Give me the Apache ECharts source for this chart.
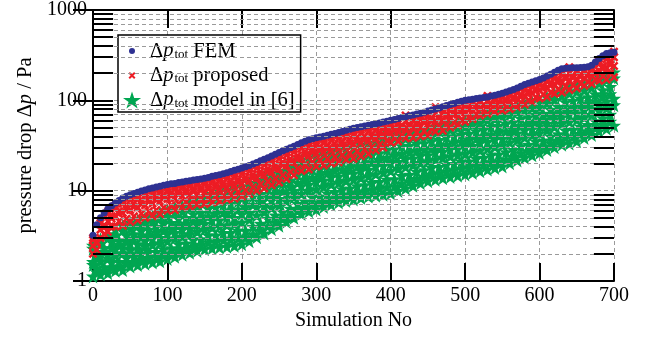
<!DOCTYPE html>
<html><head><meta charset="utf-8">
<script src="https://cdn.jsdelivr.net/npm/echarts@6/dist/echarts.min.js"></script>
<style>html,body{margin:0;padding:0;background:#fff}#c{width:658px;height:338px}</style>
</head><body><div id="c"></div>
<script>
// ---------- data ----------
const simStep5 = [0,5,10,15,20,25,30,35,40,45,50,55,60,65,70,75,80,85,90,95,100,105,110,115,120,125,130,135,140,145,150,155,160,165,170,175,180,185,190,195,200,205,210,215,220,225,230,235,240,245,250,255,260,265,270,275,280,285,290,295,300,305,310,315,320,325,330,335,340,345,350,355,360,365,370,375,380,385,390,395,400,405,410,415,420,425,430,435,440,445,450,455,460,465,470,475,480,485,490,495,500,505,510,515,520,525,530,535,540,545,550,555,560,565,570,575,580,585,590,595,600,605,610,615,620,625,630,635,640,645,650,655,660,665,670,675,680,685,690,695,700];
const simEven = [0,10,20,30,40,50,60,70,80,90,100,110,120,130,140,150,160,170,180,190,200,210,220,230,240,250,260,270,280,290,300,310,320,330,340,350,360,370,380,390,400,410,420,430,440,450,460,470,480,490,500,510,520,530,540,550,560,570,580,590,600,610,620,630,640,650,660,670,680,690,700];
const simOdd = [5,15,25,35,45,55,65,75,85,95,105,115,125,135,145,155,165,175,185,195,205,215,225,235,245,255,265,275,285,295,305,315,325,335,345,355,365,375,385,395,405,415,425,435,445,455,465,475,485,495,505,515,525,535,545,555,565,575,585,595,605,615,625,635,645,655,665,675,685,695];

// FEM (blue dots), sampled every 5 simulations
const femValues = [3.2,4.2,5.0,5.7,6.3,6.8,7.3,7.8,8.3,8.7,9.0,9.3,9.6,9.9,10.2,10.5,10.7,11.0,11.2,11.5,11.7,11.9,12.0,12.3,12.5,12.7,12.9,13.1,13.3,13.5,13.7,14.0,14.4,14.7,15.0,15.4,15.8,16.3,16.8,17.3,17.8,18.4,19.0,19.7,20.5,21.4,22.3,23.2,24.2,25.3,26.5,27.6,28.8,29.9,31,32.5,34,35.3,36.5,37.5,38.5,39.2,40,41,42,43,44,45.2,46.5,47.8,49,50,51,52,53,54,55,56.2,57.5,58.7,60,61.5,63,64.5,66,67.5,69,70.5,72,74,76,78,80,82.5,85,87.5,90,92.5,95,97.5,100,101.5,103,104.5,106,107.5,109,111.5,114,117,120,124,128,132,137,143,150,155,160,165,170,177,186,195,205,215,224,227,228,229,230,231,232,236,245,265,290,312,330,336,340];

// proposed (red crosses): spread of the band, low to high
const propLevel1 = [2.0,3.0,3.5,4.0,4.1,4.5,4.7,5.0,5.2,5.5,6.0,6.1,6.5,6.7,7.0,7.1,7.4,7.6,8.0,8.2,8.6,9.2,10,10.6,11.5,12.3,13.5,14.8,16.5,17.2,18.5,19.0,20,20.6,22,22.6,24,25.5,28,30,34,35,38,38.5,40,41,45,46,50,53,58,62,68,71,75,77,80,84,90,96,105,109,118,122,130,136,145,152,165,170,180];
const propLevel2 = [2.2,3.3,4.0,4.6,4.9,5.2,5.6,5.9,6.1,6.5,6.9,7.2,7.5,7.8,8.1,8.3,8.6,8.9,9.3,9.7,10.1,10.9,11.8,12.6,13.6,14.8,16.1,17.6,19.4,20.7,21.7,22.6,23.6,24.8,26.1,27.3,28.5,30.5,32.5,35.4,38.5,40.8,42.7,44.2,45.7,47.8,50.9,53.3,56.8,61.0,65.0,69.5,74.5,78.2,81.7,85.3,88.1,93.8,100,108,116,123,133,142,147,154,160,170,186,199];
const propLevel3 = [2.45,3.7,4.6,5.2,5.7,6.1,6.5,6.9,7.2,7.6,8.1,8.3,8.7,9.0,9.3,9.6,10.0,10.4,10.8,11.4,11.9,12.8,13.8,14.9,16.1,17.5,19.0,20.8,22.8,24.4,25.7,26.7,27.9,29.3,30.8,32.4,33.7,35.8,37.9,40.7,43.6,45.9,48.3,50.0,52.1,54.5,57.9,60.9,64.7,69.1,73.4,77.7,81.9,85.3,89.2,93.4,97.6,104,112,120,129,138,150,161,166,172,177,188,211,230,240];
const propLevel3b = [2.6,3.9,4.9,5.55,6.15,6.6,7.05,7.5,7.8,8.2,8.7,9.0,9.4,9.7,10.0,10.3,10.8,11.2,11.7,12.3,13.0,13.9,15.0,16.2,17.5,19.1,20.7,22.6,24.8,26.5,27.9,29.0,30.3,31.9,33.5,35.3,36.7,38.8,40.8,43.6,46.4,48.9,51.3,53.2,55.7,58.1,61.7,65.0,69.0,73.5,77.8,82.1,85.8,89.0,93.1,97.6,103,109,118,127,136,146,159,172,177,182,186,197,224,247];
const propLevel4 = [2.7,4.1,5.2,5.9,6.6,7.2,7.6,8.1,8.5,8.9,9.4,9.7,10.1,10.4,10.8,11.0,11.6,12.1,12.7,13.3,14.1,15.1,16.3,17.6,19.1,20.8,22.6,24.5,26.9,28.8,30.3,31.5,33.0,34.7,36.5,38.5,40.0,42.0,44.0,46.6,49.3,52.0,54.4,56.7,59.5,62.0,65.8,69.4,73.6,78.1,82.5,86.8,89.9,92.8,97.1,102,108,115,125,134,143,154,168,183,188,192,196,207,238,265];
const propLevel4b = [2.85,4.35,5.5,6.35,7.15,7.8,8.25,8.8,9.2,9.6,10.1,10.4,10.8,11.2,11.6,11.8,12.5,13.0,13.7,14.4,15.3,16.3,17.6,19.1,20.7,22.6,24.6,26.6,29.2,31.3,33.0,34.2,35.9,37.7,39.7,41.9,43.5,45.5,47.5,49.9,52.4,55.2,59,60.3,63.5,66.2,72,74,78.5,83.1,87.6,91.2,94.1,98,101,107,113,121,132,141,150,163,179,195,200,203,206,217,253,285,300];
const propLevel5 = [3.0,4.6,5.8,6.8,7.7,8.4,8.9,9.5,10.0,10.4,10.9,11.2,11.6,12.0,12.4,12.7,13.4,14.0,14.7,15.6,16.6,17.7,19.1,20.7,22.5,24.6,26.8,28.8,31.6,34,35.8,37.2,39,41,43.2,45.6,47.4,49.3,51.2,53.5,55.8,58.6,68,64.2,67.9,70.7,84,79,83.7,88.4,93,95.8,98.6,112,106,112,119,127,139,149,158,173,190,208,232,214,216,228,270,307,345];

// model in [6] (green stars): spread of the band, low to high
const modelLevel1 = [1.12,1.18,1.22,1.3,1.32,1.45,1.5,1.55,1.6,1.65,1.75,1.85,1.95,2.05,2.15,2.25,2.3,2.35,2.4,2.45,2.55,2.75,3.05,3.35,3.75,4.1,4.5,5.0,5.5,5.9,6.2,6.6,7.0,7.4,7.7,8.0,8.3,8.6,8.8,9.0,9.3,9.9,10.6,11.3,12.1,12.7,13.2,13.7,14.2,14.6,15.1,15.7,16.4,17.1,17.8,18.5,20.1,21.6,23.1,24.6,26.1,28.2,30.2,32.2,33.2,35.3,38.3,41.3,45.4,48.4,52.4];
const modelLevel1b = [1.25,1.3,1.4,1.45,1.55,1.62,1.72,1.8,1.84,1.93,2.0,2.15,2.27,2.4,2.5,2.68,2.7,2.83,2.86,2.97,3.03,3.3,3.6,4.05,4.45,4.85,5.3,5.95,6.45,7.0,7.3,7.8,8.25,8.8,9.0,9.45,9.8,10.2,10.5,10.9,11.2,12.0,12.6,13.5,14.2,15.1,15.5,16.3,16.8,17.5,17.9,18.8,19.5,20.6,21.1,22.2,23.8,25.9,27.3,29.3,30.6,33.5,35.7,38.6,39.6,42.4,45.3,49.2,53.7,57.9];
const modelLevel2 = [1.38,1.42,1.6,1.62,1.8,1.85,2.0,2.1,2.1,2.25,2.3,2.55,2.6,2.85,2.9,3.2,3.2,3.4,3.4,3.6,3.6,4.0,4.3,4.9,5.3,5.8,6.3,7.1,7.6,8.4,8.6,9.3,9.7,10.4,10.6,11.2,11.5,12.2,12.5,13.2,13.4,14.5,15.0,16.2,16.8,17.9,18.3,19.5,19.8,20.9,21.1,22.5,23.1,24.7,25.1,26.7,28.2,31.0,32.3,35.0,36.0,39.8,42.2,46.4,47.3,50.9,53.5,58.6,63.5,69.2];
const modelLevel2b = [1.5,1.65,1.77,1.9,2.03,2.2,2.25,2.42,2.5,2.6,2.75,2.95,3.1,3.3,3.5,3.7,3.9,4.0,4.15,4.25,4.45,4.8,5.3,5.8,6.45,6.85,7.65,8.4,9.2,9.9,10.4,11.0,11.7,12.2,12.8,13.2,13.8,14.4,15.2,15.8,16.5,17.4,18.3,19.2,20.2,21.0,22.0,23.0,23.9,24.6,25.4,26.5,27.9,29.2,30.4,31.6,34.1,36.5,38.9,41.0,43.1,46.8,50.8,55.0,57.5,60.5,64.4,69.0,76.5,81.9,88];
const modelLevel3 = [1.62,1.9,1.95,2.25,2.3,2.6,2.55,2.8,2.95,3.0,3.3,3.4,3.7,3.8,4.2,4.3,4.7,4.7,5.1,5.0,5.5,5.7,6.5,6.9,7.8,8.1,9.3,10.0,11.2,11.6,12.5,13.0,14.1,14.4,15.3,15.5,16.6,17.0,18.5,18.9,20.2,20.8,22.3,22.7,24.3,24.6,26.4,27.0,28.7,29.0,30.6,31.3,33.8,34.6,36.9,37.5,41.3,43.0,46.8,48.2,51.6,55.0,61.2,65.0,70.0,71.8,77.5,81.4,92.0,97.0,104];
const modelLevel3b = [1.85,2.1,2.3,2.5,2.7,2.95,3.05,3.2,3.45,3.6,3.8,4.1,4.3,4.6,4.9,5.2,5.55,5.75,6.0,6.2,6.55,7.0,7.75,8.5,9.25,9.85,11.0,12.2,13.2,14.0,14.8,15.7,16.6,17.3,17.9,18.6,19.5,20.6,21.9,23.2,24.2,25.4,26.5,27.5,28.6,29.4,31.0,32.5,33.9,34.9,36.1,37.7,39.9,41.9,43.8,45.4,48.8,51.9,55.2,57.9,60.5,65.8,72.1,78.6,83.2,86.8,91.5,97.6,109,117];
const modelLevel4 = [2.1,2.3,2.7,2.8,3.2,3.3,3.6,3.7,4.0,4.3,4.4,4.9,5.0,5.5,5.7,6.3,6.5,7.0,7.1,7.6,7.8,8.6,9.2,10.4,11.0,12.0,13.0,14.8,15.6,17.0,17.4,18.9,19.5,20.8,21.0,22.3,23.0,25.0,26.0,28.4,29.0,31.0,31.5,33.2,33.6,35.2,36.5,39.2,40.0,42.0,42.6,45.5,47.2,50.8,52.0,55.0,57.6,62.6,65.0,69.5,71.0,78.8,85.0,95.0,99.0,105,108,117,129,141];
const modelLevel4b = [2.27,2.58,2.98,3.2,3.62,3.8,4.1,4.3,4.55,4.95,5.15,5.65,5.85,6.4,6.75,7.35,7.75,8.3,8.5,9.05,9.35,10.2,11.0,12.3,13.1,14.1,15.5,17.4,18.5,19.9,20.6,22.1,23.1,24.2,24.8,26.0,27.2,29.2,31.1,33.7,34.9,36.9,37.6,39.1,39.7,41.1,43.1,46.0,47.3,49.4,50.6,53.5,56.2,60.0,62.0,65.1,68.7,73.8,77.3,81.7,83.8,92.3,101,112,119,125,129,138,154,167,175];
const modelLevel5 = [2.45,2.9,3.3,3.7,4.1,4.4,4.7,5.0,5.2,5.7,6.0,6.5,6.8,7.4,8.0,8.6,9.2,9.8,10.2,10.8,11.2,12.2,13.2,14.6,15.6,16.6,18.5,20.5,22,23.4,24.5,25.8,27.4,28.3,29.4,30.3,32.2,34.2,37.2,40.0,42.0,44.0,45.0,46.0,47.0,48.0,51.0,54.0,56.0,58.0,60.0,63.0,67.0,71.0,74.0,77.0,82.0,87.0,92.0,96.0,99.0,108,120,133,143,148,153,163,183,197,203];

const yMinor = [2,3,4,5,6,7,8,9,20,30,40,50,60,70,80,90,200,300,400,500,600,700,800,900];
const seriesNames = ['FEM','proposed','model in [6]'];

// ---------- styling ----------
const F = "'Liberation Serif','DejaVu Serif',serif";
const C_BLUE = '#2e3192', C_RED = '#ed1c24', C_GREEN = '#00a651';
const STAR = 'path://M50,0L62,33L98,33L69,56L80,92L50,71L20,92L31,56L2,33L38,33Z';
const CROSS = 'path://M2,0L5,3L8,0L10,2L7,5L10,8L8,10L5,7L2,10L0,8L3,5L0,2Z';
const ICON_DOT = 'path://M0,0M26,20M13,7A3,3,0,1,1,13,13A3,3,0,1,1,13,7Z';
const ICON_CROSS = 'path://M0,0M26,20M10.9,6.5L13,8.6L15.1,6.5L16.5,7.9L14.4,10L16.5,12.1L15.1,13.5L13,11.4L10.9,13.5L9.5,12.1L11.6,10L9.5,7.9Z';
const ICON_STAR = 'path://M0,0M26,20M13,1.4L15.2,8L22.1,8L16.5,12L18.6,18.6L13,14.5L7.4,18.6L9.6,12L4,8L10.9,8Z';
const minorTickLen = 27; // in simulation units (~20 px)

const pairs = (xs, ys) => ys.map((y, i) => [xs[i], y]);
const femData = pairs(simStep5, femValues);
const propData = [].concat(
  pairs(simEven, propLevel1), pairs(simOdd, propLevel2), pairs(simEven, propLevel3),
  pairs(simOdd, propLevel3b), pairs(simOdd, propLevel4), pairs(simEven, propLevel4b), pairs(simEven, propLevel5));
const modelData = [].concat(
  pairs(simEven, modelLevel1), pairs(simOdd, modelLevel1b), pairs(simOdd, modelLevel2), pairs(simEven, modelLevel2b),
  pairs(simEven, modelLevel3), pairs(simOdd, modelLevel3b), pairs(simOdd, modelLevel4), pairs(simEven, modelLevel4b),
  pairs(simEven, modelLevel5));

const gridDash = {type: [4, 3], color: '#9a9a9a', width: 1};
const txt = {fontFamily: F, fontSize: 20, color: '#000'};
const axisLineS = {lineStyle: {color: '#000', width: 2}};

const chart = echarts.init(document.getElementById('c'), null, {renderer: 'canvas'});
chart.setOption({
  animation: false,
  backgroundColor: '#fff',
  grid: {left: 93, right: 44, top: 10, bottom: 57, containLabel: false},
  xAxis: [{
    type: 'value', min: 0, max: 700, interval: 100, position: 'bottom',
    axisLine: axisLineS,
    axisTick: {inside: true, length: 18, lineStyle: {color: '#000', width: 2}},
    axisLabel: Object.assign({margin: 5}, txt),
    splitLine: {show: true, lineStyle: gridDash},
    name: 'Simulation No', nameLocation: 'middle', nameGap: 30,
    nameTextStyle: txt
  }, {
    type: 'value', min: 0, max: 700, interval: 100, position: 'top',
    axisLine: axisLineS,
    axisTick: {inside: true, length: 18, lineStyle: {color: '#000', width: 2}},
    axisLabel: {show: false}, splitLine: {show: false}
  }],
  yAxis: [{
    type: 'log', logBase: 10, min: 1, max: 1000,
    axisLine: axisLineS,
    axisTick: {inside: true, length: 20, lineStyle: {color: '#000', width: 2}},
    axisLabel: Object.assign({margin: 6, formatter: v => String(Math.round(v))}, txt),
    splitLine: {show: true, lineStyle: gridDash},
    name: '{a|pressure drop Δ}{i|p}{a| / Pa}', nameLocation: 'middle', nameGap: 56, nameRotate: 90,
    nameTextStyle: {rich: {a: Object.assign({}, txt, {fontSize: 20.5}), i: Object.assign({}, txt, {fontSize: 20.5, fontStyle: 'italic'})}}
  }, {
    type: 'log', logBase: 10, min: 1, max: 1000, position: 'right',
    axisLine: axisLineS,
    axisTick: {inside: true, length: 20, lineStyle: {color: '#000', width: 2}},
    axisLabel: {show: false}, splitLine: {show: false}
  }],
  legend: {
    orient: 'vertical', left: 118, top: 35,
    padding: [1, 6, 1, 1], itemGap: -1.5, itemWidth: 26, itemHeight: 20,
    borderColor: '#000', borderWidth: 1.5, backgroundColor: '#fff',
    data: [{name: seriesNames[0], icon: ICON_DOT}, {name: seriesNames[1], icon: ICON_CROSS}, {name: seriesNames[2], icon: ICON_STAR}],
    formatter: n => '{d|Δ}{i|p}{s|tot}{n| ' + n + '}',
    textStyle: {rich: {
      d: {fontFamily: F, fontSize: 20.5, color: '#000', lineHeight: 20, verticalAlign: 'top'},
      i: {fontFamily: F, fontSize: 20.5, color: '#000', fontStyle: 'italic', lineHeight: 20, verticalAlign: 'top'},
      s: {fontFamily: F, fontSize: 13, color: '#000', lineHeight: 12, padding: [12, 0, 0, 1], verticalAlign: 'bottom'},
      n: {fontFamily: F, fontSize: 20.5, color: '#000', lineHeight: 20, verticalAlign: 'top'}
    }}
  },
  series: [{
    name: 'gridMinor', type: 'scatter', z: 1, data: [[0, 1]], symbolSize: 0, silent: true,
    markLine: {silent: true, symbol: ['none', 'none'], label: {show: false}, lineStyle: gridDash,
      data: yMinor.map(v => ({yAxis: v}))}
  }, {
    name: seriesNames[2], type: 'scatter', z: 2, data: modelData, symbol: STAR, symbolSize: 14,
    itemStyle: {color: C_GREEN, opacity: 1}
  }, {
    name: seriesNames[1], type: 'scatter', z: 3, data: propData, symbol: CROSS, symbolSize: 9,
    itemStyle: {color: C_RED, opacity: 1}
  }, {
    name: seriesNames[0], type: 'scatter', z: 4, data: femData, symbol: 'circle', symbolSize: 7,
    itemStyle: {color: C_BLUE, opacity: 1}
  }, {
    name: 'minorTicks', type: 'scatter', z: 6, data: [[0, 1]], symbolSize: 0, silent: true,
    markLine: {silent: true, symbol: ['none', 'none'], label: {show: false}, lineStyle: {type: 'solid', color: '#000', width: 2},
      data: [].concat(
        yMinor.map(v => [{coord: [0, v]}, {coord: [minorTickLen, v]}]),
        yMinor.map(v => [{coord: [700 - minorTickLen, v]}, {coord: [700, v]}]))}
  }]
});
</script></body></html>
